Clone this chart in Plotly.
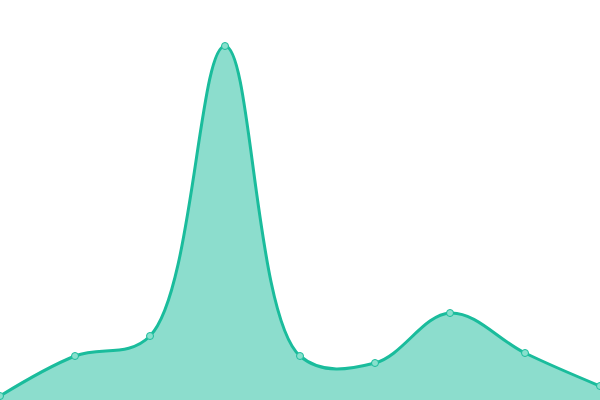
import plotly.graph_objects as go

# data
x_vals = [0, 1, 2, 3, 4, 5, 6, 7, 8]
y_vals = [4, 44, 64, 354, 44, 37, 87, 47, 14]

line_color = "#1abc9c"
fill_color = "rgba(26, 188, 156, 0.5)"

fig = go.Figure()
fig.add_trace(go.Scatter(
    x=x_vals,
    y=y_vals,
    mode="lines+markers",
    line=dict(color=line_color, width=3, shape="spline", smoothing=1.05),
    fill="tozeroy",
    fillcolor=fill_color,
    marker=dict(size=7, color="#88e0cd", line=dict(color=line_color, width=1)),
    hoverinfo="skip",
))

fig.update_layout(
    width=600,
    height=400,
    margin=dict(l=0, r=0, t=0, b=0),
    paper_bgcolor="white",
    plot_bgcolor="white",
    showlegend=False,
    xaxis=dict(range=[0, 8], visible=False, fixedrange=True),
    yaxis=dict(range=[0, 400], visible=False, fixedrange=True),
)

# drop the browser's default body margin so the chart sits at 0,0
fig.write_html(
    "out.html",
    config={"displayModeBar": False},
    post_script="document.body.style.margin='0';document.body.style.overflow='hidden';",
)
